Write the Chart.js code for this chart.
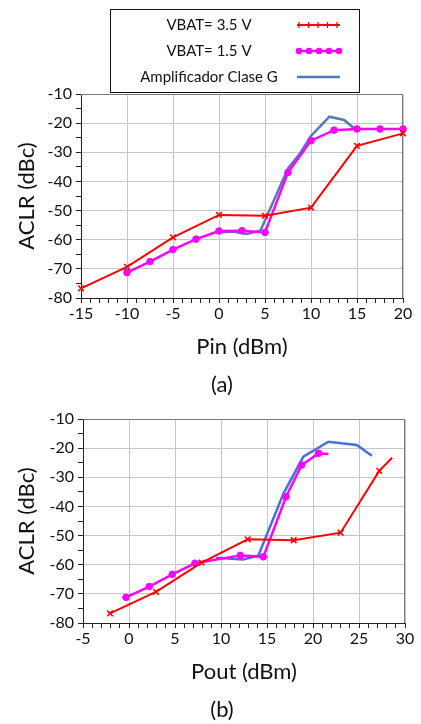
<!DOCTYPE html>
<html>
<head>
<meta charset="utf-8">
<script src="https://cdn.jsdelivr.net/npm/chart.js"></script>
<style>
html, body { margin: 0; padding: 0; background: #fff; overflow: hidden; }
#wrapA { position: absolute; left: 0; top: 0; width: 421px; height: 400px; }
#wrapB { position: absolute; left: 0; top: 400px; width: 421px; height: 324px; }
</style>
</head>
<body>
<div id="wrapA"><canvas id="chartA"></canvas></div>
<div id="wrapB"><canvas id="chartB"></canvas></div>
<script>
// (a) ACLR vs Pin
const pinRed = [-15, -10, -5, 0, 5, 10, 15, 20];
const aclrRedA = [-76.7, -69.3, -59.2, -51.5, -51.8, -49.0, -27.8, -23.5];

const pinMag = [-10, -7.5, -5, -2.5, 0, 2.5, 5, 7.5, 10, 12.5, 15, 17.5, 20];
const aclrMagA = [-71.3, -67.5, -63.4, -59.8, -57.0, -56.9, -57.5, -36.9, -26.0, -22.4, -22.0, -22.0, -22.0];

const pinBlue = [0, 1.5, 3, 4.5, 7.5, 8.8, 10, 12, 13.6, 15];
const aclrBlueA = [-57.5, -57.2, -58.0, -56.9, -35.5, -30.4, -24.4, -17.8, -18.9, -22.6];

// (b) ACLR vs Pout
const poutRed = [-2.07, 2.93, 7.9, 12.9, 17.9, 23.0, 27.2, 28.6];
const aclrRedB = [-76.7, -69.3, -59.3, -51.3, -51.6, -49.0, -27.8, -23.3];

const poutMag = [-0.33, 2.2, 4.7, 7.17, 12.1, 14.6, 17.07, 18.77, 20.6, 21.67];
const aclrMagB = [-71.2, -67.5, -63.3, -59.5, -56.8, -57.3, -36.7, -25.8, -21.8, -22.0];

const poutBlue = [9.46, 12.4, 14.05, 16.8, 18.95, 21.67, 24.75, 26.4];
const aclrBlueB = [-57.6, -58.2, -56.9, -35.5, -22.9, -17.8, -18.9, -22.6];

const seriesNames = ["VBAT= 3.5 V", "VBAT= 1.5 V", "Amplificador Clase G"];

const RED = "#ff0000";
const MAG = "#ff00ff";
const BLUE_A = "#5479b8";
const BLUE_B = "#4470dc";
const GRID = "#c6c6c6";
const FONT = "Lato, 'Open Sans', sans-serif";

Chart.defaults.font.family = FONT;
Chart.defaults.color = "#111";

function pts(xs, ys) {
    return xs.map((x, i) => ({ x: x, y: ys[i] }));
}

function datasets(xr, yr, xm, ym, xb, yb, blue, lastBare) {
    const bare = (n) => (ctx) =>
        (lastBare && ctx.dataIndex === n - 1) ? 0 : undefined;
    return [
        {
            label: seriesNames[0],
            data: pts(xr, yr),
            borderColor: RED,
            backgroundColor: RED,
            borderWidth: 2,
            pointStyle: "crossRot",
            pointRadius: (ctx) => bare(xr.length)(ctx) ?? 4,
            pointBorderWidth: 1.6,
            clip: false
        },
        {
            label: seriesNames[1],
            data: pts(xm, ym),
            borderColor: MAG,
            backgroundColor: MAG,
            borderWidth: 2.5,
            pointStyle: "circle",
            pointRadius: (ctx) => bare(xm.length)(ctx) ?? 3.3,
            pointBorderWidth: 1,
            clip: false
        },
        {
            label: seriesNames[2],
            data: pts(xb, yb),
            borderColor: blue,
            backgroundColor: blue,
            borderWidth: 2.5,
            pointRadius: 0,
            clip: false
        }
    ];
}

function makeScales(xmin, xmax, xTitle, yWidth, xHeight, xTitlePad) {
    return {
        x: {
            type: "linear",
            min: xmin,
            max: xmax,
            afterFit: (s) => { s.height = xHeight; },
            border: { color: "#222", width: 1 },
            grid: {
                color: (c) => (c.tick && c.tick.value % 5 === 0) ? GRID : "rgba(0,0,0,0)",
                tickColor: "#222",
                tickLength: 5
            },
            ticks: {
                stepSize: 1,
                autoSkip: false,
                maxRotation: 0,
                padding: 1,
                font: { size: 16 },
                callback: (v) => (v % 5 === 0) ? String(v) : ""
            },
            title: {
                display: true,
                text: xTitle,
                font: { size: 22 },
                padding: { top: 0, bottom: xTitlePad }
            }
        },
        y: {
            type: "linear",
            min: -80,
            max: -10,
            afterFit: (s) => { s.width = yWidth; },
            border: { color: "#222", width: 1 },
            grid: {
                color: (c) => (c.tick && c.tick.value % 10 === 0) ? GRID : "rgba(0,0,0,0)",
                tickColor: "#222",
                tickLength: 5
            },
            ticks: {
                stepSize: 5,
                autoSkip: false,
                padding: 4,
                font: { size: 16 },
                callback: (v) => (v % 10 === 0) ? String(v) : ""
            },
            title: {
                display: true,
                text: "ACLR (dBc)",
                font: { size: 22 },
                padding: { top: 14, bottom: 0 }
            }
        }
    };
}

const framePlugin = {
    id: "frame",
    beforeDatasetsDraw(chart) {
        const a = chart.chartArea;
        const ctx = chart.ctx;
        ctx.save();
        ctx.strokeStyle = "#7a7a7a";
        ctx.lineWidth = 1;
        ctx.beginPath();
        ctx.moveTo(a.left, a.top + 0.5);
        ctx.lineTo(a.right - 0.5, a.top + 0.5);
        ctx.lineTo(a.right - 0.5, a.bottom);
        ctx.stroke();
        ctx.restore();
    }
};

const captionPlugin = {
    id: "caption",
    afterDraw(chart, args, opts) {
        const ctx = chart.ctx;
        ctx.save();
        ctx.font = "22px " + FONT;
        ctx.fillStyle = "#111";
        ctx.textAlign = "center";
        ctx.textBaseline = "middle";
        ctx.fillText(opts.text, opts.x, opts.y);
        ctx.restore();
    }
};

const legendPlugin = {
    id: "boxLegend",
    afterDraw(chart) {
        const ctx = chart.ctx;
        const rows = [25, 51, 77];
        ctx.save();
        ctx.fillStyle = "#fff";
        ctx.fillRect(111, 9, 249, 83);
        ctx.strokeStyle = "#111";
        ctx.lineWidth = 1;
        ctx.strokeRect(110.5, 9.5, 249, 83);
        ctx.font = "15px " + FONT;
        ctx.fillStyle = "#111";
        ctx.textAlign = "center";
        ctx.textBaseline = "middle";
        chart.data.datasets.forEach((ds, i) => {
            const y = rows[i];
            ctx.fillText(ds.label, 209, y);
            ctx.strokeStyle = ds.borderColor;
            ctx.lineWidth = ds.borderWidth;
            ctx.beginPath();
            ctx.moveTo(297, y);
            ctx.lineTo(340, y);
            ctx.stroke();
            if (i === 0) {
                ctx.lineWidth = 1.3;
                for (let k = 0; k < 5; k++) {
                    const x = 299 + k * 9.5;
                    ctx.beginPath();
                    ctx.moveTo(x, y - 3);
                    ctx.lineTo(x, y + 3);
                    ctx.stroke();
                }
            }
            if (i === 1) {
                ctx.fillStyle = ds.backgroundColor;
                for (let k = 0; k < 5; k++) {
                    ctx.beginPath();
                    ctx.arc(299 + k * 10, y, 3.3, 0, Math.PI * 2);
                    ctx.fill();
                }
                ctx.fillStyle = "#111";
            }
        });
        ctx.restore();
    }
};

const chartA = new Chart(
    document.getElementById("chartA").getContext("2d"),
{
    type: "line",
    data: {
        datasets: datasets(pinRed, aclrRedA, pinMag, aclrMagA, pinBlue, aclrBlueA, BLUE_A, false)
    },
    options: {
        responsive: true,
        maintainAspectRatio: false,
        animation: false,
        layout: { padding: { top: 94, right: 18, left: 0, bottom: 0 } },
        scales: makeScales(-15, 20, "Pin (dBm)", 81, 102, 40),
        plugins: {
            legend: { display: false },
            tooltip: { enabled: false },
            caption: { text: "(a)", x: 222, y: 385 }
        }
    },
    plugins: [framePlugin, captionPlugin, legendPlugin]
});

const chartB = new Chart(
    document.getElementById("chartB").getContext("2d"),
{
    type: "line",
    data: {
        datasets: datasets(poutRed, aclrRedB, poutMag, aclrMagB, poutBlue, aclrBlueB, BLUE_B, true)
    },
    options: {
        responsive: true,
        maintainAspectRatio: false,
        animation: false,
        layout: { padding: { top: 19, right: 16, left: 0, bottom: 0 } },
        scales: makeScales(-5, 30, "Pout (dBm)", 83, 101, 39),
        plugins: {
            legend: { display: false },
            tooltip: { enabled: false },
            caption: { text: "(b)", x: 222, y: 310 }
        }
    },
    plugins: [framePlugin, captionPlugin]
});
</script>
</body>
</html>
